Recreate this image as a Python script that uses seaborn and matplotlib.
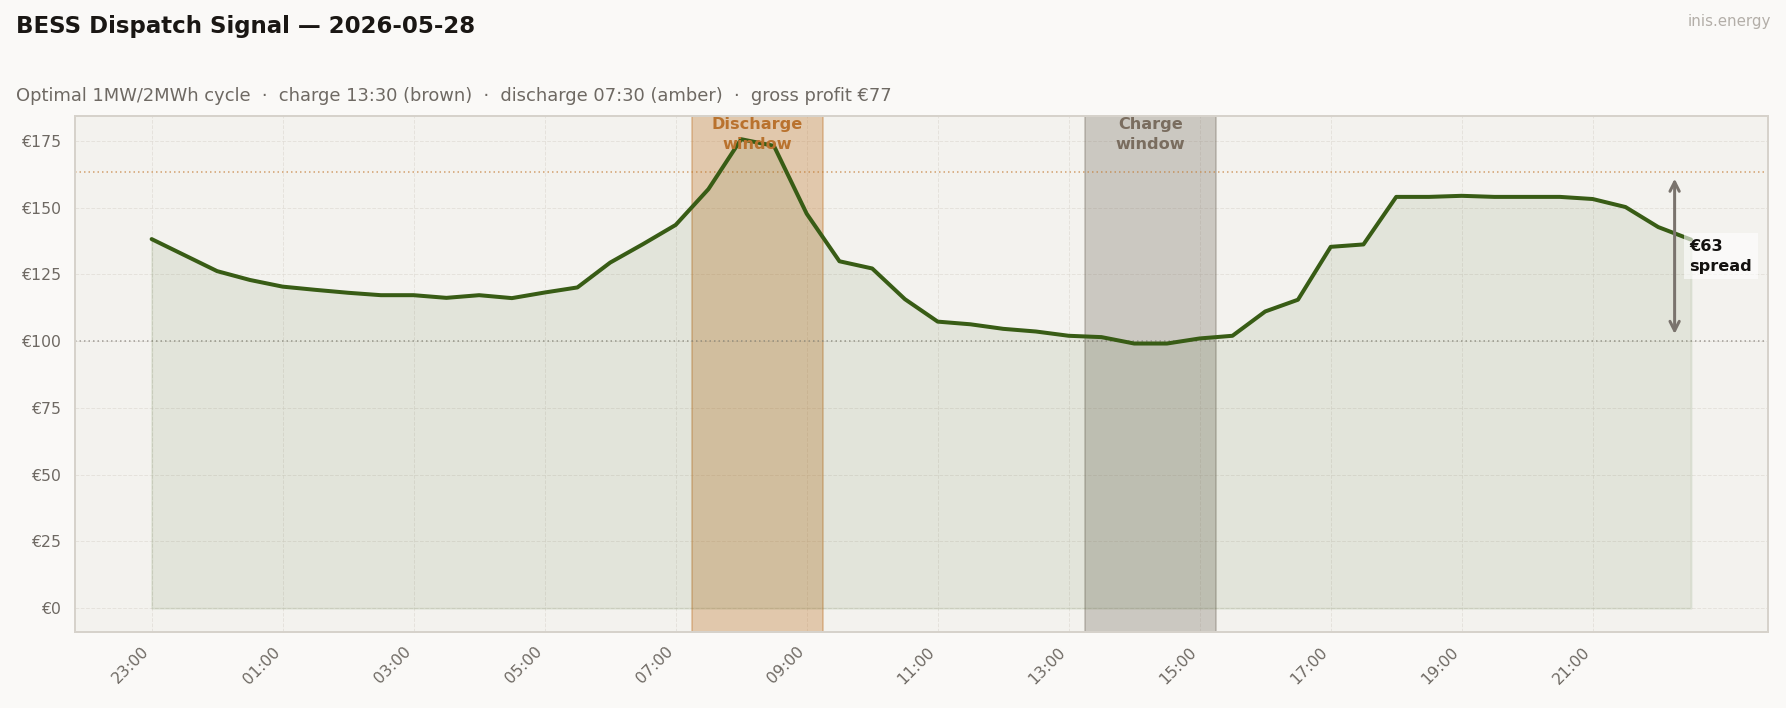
import numpy as np
import pandas as pd
import seaborn as sns
import matplotlib.pyplot as plt
import matplotlib.transforms as mtransforms

# ---------------- data ----------------
slots = ["23:00", "23:30", "00:00", "00:30", "01:00", "01:30", "02:00", "02:30",
         "03:00", "03:30", "04:00", "04:30", "05:00", "05:30", "06:00", "06:30",
         "07:00", "07:30", "08:00", "08:30", "09:00", "09:30", "10:00", "10:30",
         "11:00", "11:30", "12:00", "12:30", "13:00", "13:30", "14:00", "14:30",
         "15:00", "15:30", "16:00", "16:30", "17:00", "17:30", "18:00", "18:30",
         "19:00", "19:30", "20:00", "20:30", "21:00", "21:30", "22:00", "22:30"]
prices = [138.2, 132.2, 126.2, 122.9, 120.4, 119.2, 118.1, 117.2,
          117.2, 116.2, 117.2, 116.1, 118.2, 120.1, 129.4, 136.3,
          143.5, 156.9, 175.6, 173.1, 147.7, 129.9, 127.2, 115.7,
          107.3, 106.3, 104.6, 103.6, 102.0, 101.5, 99.1, 99.1,
          101.0, 102.0, 111.1, 115.5, 135.3, 136.2, 154.0, 154.0,
          154.4, 154.0, 154.0, 154.0, 153.2, 150.2, 142.7, 138.0]
tick_labels = ["23:00", "01:00", "03:00", "05:00", "07:00", "09:00",
               "11:00", "13:00", "15:00", "17:00", "19:00", "21:00"]
discharge_start = "07:30"
charge_start = "13:30"
window_slots = 4
spread_label = "€63\nspread"
title = "BESS Dispatch Signal — 2026-05-28"
subtitle = ("Optimal 1MW/2MWh cycle  ·  charge 13:30 (brown)  ·  "
            "discharge 07:30 (amber)  ·  gross profit €77")

# ---------------- style ----------------
BG = "#faf9f7"
AX_BG = "#f3f2ee"
GREEN = "#385c15"
AMBER = "#c27a31"
BROWN = "#797064"
TXT = "#6e6963"
SPINE = "#d6d2cb"

sns.set_style("white", rc={
    "axes.facecolor": AX_BG,
    "figure.facecolor": BG,
    "axes.edgecolor": SPINE,
    "grid.color": "#dedad3",
    "grid.linestyle": "--",
})
plt.rcParams["font.family"] = ["DejaVu Sans"]

df = pd.DataFrame({"slot": np.arange(len(prices)), "price": prices, "time": slots})

fig = plt.figure(figsize=(1786 / 120, 708 / 120), dpi=120, facecolor=BG)
ax = fig.add_axes([0.0418, 0.1078, 0.9481, 0.7288])
ax.set_facecolor(AX_BG)

d0 = slots.index(discharge_start)
c0 = slots.index(charge_start)
dis_avg = float(np.mean(prices[d0:d0 + window_slots]))
chg_avg = float(np.mean(prices[c0:c0 + window_slots]))

# windows
ax.axvspan(d0 - 0.5, d0 + window_slots - 0.5, color=AMBER, alpha=0.35, lw=1.2, zorder=1)
ax.axvspan(c0 - 0.5, c0 + window_slots - 0.5, color=BROWN, alpha=0.32, lw=1.2, zorder=1)

# reference lines
ax.axhline(dis_avg, color=AMBER, lw=0.9, ls=(0, (1, 2)), alpha=0.7, zorder=2)
ax.axhline(chg_avg, color="#8a857f", lw=0.9, ls=(0, (1, 2)), alpha=0.8, zorder=2)

# area + line
ax.fill_between(df["slot"], 0, df["price"], color=GREEN, alpha=0.09, lw=1.2, zorder=2)
sns.lineplot(data=df, x="slot", y="price", ax=ax, color=GREEN, lw=2.4, zorder=4)

# window labels
trans = mtransforms.blended_transform_factory(ax.transData, ax.transAxes)
ax.text(d0 + (window_slots - 1) / 2, 0.998, "Discharge\nwindow", transform=trans,
        ha="center", va="top", fontsize=9.7, fontweight="bold", color="#b9722e",
        linespacing=1.4, zorder=5)
ax.text(c0 + (window_slots - 1) / 2, 0.998, "Charge\nwindow", transform=trans,
        ha="center", va="top", fontsize=9.7, fontweight="bold", color="#7a6d5f",
        linespacing=1.4, zorder=5)

# spread arrow
ax.annotate("", xy=(46.5, dis_avg), xytext=(46.5, chg_avg),
            arrowprops=dict(arrowstyle="<->", color="#7a736d", lw=1.8,
                            shrinkA=4, shrinkB=4, mutation_scale=14), zorder=6)
ax.text(46.95, (dis_avg + chg_avg) / 2, spread_label, ha="left", va="center",
        fontsize=9.7, fontweight="bold", color="#141210", linespacing=1.4,
        bbox=dict(boxstyle="square,pad=0.35", fc="white", ec="none", alpha=0.6),
        zorder=7)

# axes
ax.set_xlim(-2.35, 49.35)
ax.set_ylim(-8.78, 184.4)
ax.set_xticks(np.arange(0, len(prices), 4))
ax.set_xticklabels(tick_labels, rotation=45, ha="right")
ax.set_yticks(np.arange(0, 176, 25))
ax.set_yticklabels([f"€{v:.0f}" for v in np.arange(0, 176, 25)])
ax.set_xlabel("")
ax.set_ylabel("")
ax.grid(True, lw=0.6, alpha=0.65, zorder=0)
ax.set_axisbelow(True)
ax.tick_params(axis="both", colors=TXT, labelsize=9.4, length=3.5, width=1.2, pad=4)
for s in ax.spines.values():
    s.set_visible(True)
    s.set_color(SPINE)
    s.set_linewidth(1.2)

# titles
fig.text(16 / 1786, 1 - 33 / 708, title, ha="left", va="baseline",
         fontsize=13.7, fontweight="bold", color="#1a1714")
fig.text(16 / 1786, 1 - 101 / 708, subtitle, ha="left", va="baseline",
         fontsize=10.7, color=TXT)
fig.text(1771 / 1786, 1 - 26 / 708, "inis.energy", ha="right", va="baseline",
         fontsize=9, color="#b3aea8")

fig.savefig("out.png", dpi=120, facecolor=BG)
